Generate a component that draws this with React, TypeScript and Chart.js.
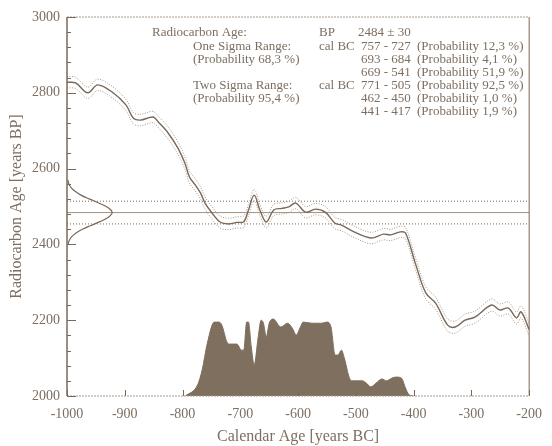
import React, { useEffect, useRef } from "react";
import { Chart, registerables } from "chart.js";
Chart.register(...registerables);

// Calibration curve (calendar year BC as negative, radiocarbon age BP)
const calYears = [-1000, -985, -964, -947, -922, -898, -885, -873, -851, -842, -825, -808, -796, -788, -778, -769, -761, -749, -735, -720, -706, -694, -686, -676, -666, -655, -642, -628, -616, -604, -587, -570, -553, -536, -525, -503, -474, -452, -440, -423, -414, -397, -379, -362, -341, -328, -311, -294, -265, -251, -236, -222, -214, -200];
const calAges = [2828, 2826, 2800, 2821, 2802, 2768, 2733, 2728, 2736, 2723, 2694, 2654, 2615, 2578, 2557, 2536, 2509, 2483, 2459, 2454, 2458, 2460, 2490, 2530, 2490, 2459, 2491, 2495, 2499, 2509, 2485, 2493, 2485, 2456, 2451, 2433, 2417, 2427, 2425, 2433, 2430, 2350, 2272, 2245, 2187, 2182, 2200, 2208, 2240, 2227, 2232, 2206, 2222, 2175];
const calSigma = [15, 15, 15, 15, 15, 15, 15, 15, 15, 15, 16, 16, 16, 16, 16, 16, 16, 16, 16, 15, 15, 15, 15, 15, 15, 15, 15, 15, 15, 15, 15, 15, 15, 15, 15, 15, 15, 15, 15, 15, 15, 16, 16, 16, 16, 16, 16, 16, 16, 16, 16, 16, 16, 16];

// Calibrated probability distribution (height above the 2000 BP baseline)
const probYears = [-795, -774, -766, -757, -745, -737, -732, -723, -718, -706, -698, -694, -689, -686, -681, -676, -669, -664, -660, -655, -650, -643, -630, -618, -610, -603, -596, -591, -576, -559, -550, -543, -536, -531, -525, -520, -511, -506, -489, -482, -474, -465, -455, -447, -438, -430, -421, -414, -409, -401];
const probHeight = [0, 29, 69, 140, 195, 195, 187, 142, 137, 137, 121, 121, 195, 195, 129, 82, 156, 200, 192, 156, 192, 203, 182, 192, 179, 161, 182, 195, 192, 192, 195, 182, 108, 108, 121, 100, 47, 40, 40, 34, 24, 34, 45, 40, 47, 50, 47, 21, 5, 0];

// Measured radiocarbon age distribution (2484 ± 30 BP)
const measuredAge = 2484;
const measuredSigma = 30;
const gaussAges = [2400, 2410, 2420, 2430, 2440, 2450, 2460, 2470, 2480, 2484, 2490, 2500, 2510, 2520, 2530, 2540, 2550, 2560, 2570];
const gaussDensity = [0.02, 0.05, 0.1, 0.2, 0.34, 0.53, 0.73, 0.9, 0.99, 1.0, 0.98, 0.87, 0.69, 0.49, 0.31, 0.18, 0.09, 0.04, 0.02];
const gaussPeakYears = 78;

const xTicks = [-1000, -900, -800, -700, -600, -500, -400, -300, -200];
const yTicks = [2000, 2200, 2400, 2600, 2800, 3000];

const infoRows: [string, string, string, string, string][] = [
  ["Radiocarbon Age:", "", "BP", "2484 ± 30", ""],
  ["", "One Sigma Range:", "cal BC", "757 - 727", "(Probability 12,3 %)"],
  ["", "(Probability 68,3 %)", "", "693 - 684", "(Probability 4,1 %)"],
  ["", "", "", "669 - 541", "(Probability 51,9 %)"],
  ["", "Two Sigma Range:", "cal BC", "771 - 505", "(Probability 92,5 %)"],
  ["", "(Probability 95,4 %)", "", "462 - 450", "(Probability 1,0 %)"],
  ["", "", "", "441 - 417", "(Probability 1,9 %)"],
];

const INK = "#7a6858";
const TEXT = "#7d6e60";
const LIGHT = "#a8998a";
const FILL = "#7f6f5e";
const SERIF = '"Liberation Serif", "Times New Roman", serif';

export default function App() {
  const ref = useRef<HTMLCanvasElement | null>(null);
  useEffect(() => {
    if (!ref.current) return;
    const pts = (xs: number[], ys: number[]) => xs.map((x, i) => ({ x, y: ys[i] }));
    const upper = calAges.map((a, i) => a + calSigma[i]);
    const lower = calAges.map((a, i) => a - calSigma[i]);
    const probY = probHeight.map((h) => 2000 + h);
    const gaussX = gaussDensity.map((d) => xTicks[0] + gaussPeakYears * d);
    const hl = (v: number) => [{ x: -1000, y: v }, { x: -200, y: v }];

    const decor = {
      id: "decor",
      afterDatasetsDraw(chart: any) {
        const { ctx, chartArea: a, scales } = chart;
        const xs = scales.x, ys = scales.y;
        ctx.save();
        const seg = (x1: number, y1: number, x2: number, y2: number) => {
          ctx.beginPath(); ctx.moveTo(x1, y1); ctx.lineTo(x2, y2); ctx.stroke();
        };
        // frame
        ctx.strokeStyle = INK;
        ctx.setLineDash([]);
        ctx.lineWidth = 1.5;
        seg(a.left, a.top, a.left, a.bottom);
        ctx.lineWidth = 1;
        seg(a.right, a.top, a.right, a.bottom);
        ctx.setLineDash([2, 1]);
        ctx.strokeStyle = LIGHT;
        seg(a.left, a.top, a.right, a.top);
        seg(a.left, a.bottom, a.right, a.bottom);
        ctx.setLineDash([]);
        ctx.strokeStyle = INK;
        ctx.lineWidth = 1;
        // y ticks (inward)
        for (let v = 2000; v <= 3000; v += 40) {
          const py = Math.round(ys.getPixelForValue(v)) + 0.5;
          const len = v % 200 === 0 ? 9 : 4;
          seg(a.left, py, a.left + len, py);
        }
        // x ticks (inward)
        for (const v of xTicks) {
          const px = Math.round(xs.getPixelForValue(v)) + 0.5;
          seg(px, a.bottom, px, a.bottom - 6);
        }
        // axis titles
        ctx.fillStyle = TEXT;
        ctx.font = `16px ${SERIF}`;
        ctx.textAlign = "center";
        ctx.textBaseline = "middle";
        ctx.fillText("Calendar Age [years BC]", (a.left + a.right) / 2, 437);
        ctx.save();
        ctx.translate(17, (a.top + a.bottom) / 2);
        ctx.rotate(-Math.PI / 2);
        ctx.fillText("Radiocarbon Age [years BP]", 0, 0);
        ctx.restore();
        // info text
        ctx.font = `13px ${SERIF}`;
        ctx.textAlign = "left";
        const cols = [152, 193, 319, 361, 417];
        infoRows.forEach((row, i) => {
          const py = 33 + i * 13.1;
          row.forEach((t, j) => {
            if (!t) return;
            let cx = cols[j];
            if (j === 3 && i === 0) cx = 358;
            ctx.fillText(t, cx, py);
          });
        });
        ctx.restore();
      },
    };

    const chart = new Chart(ref.current, {
      type: "line",
      data: {
        datasets: [
          { data: pts(calYears, calAges), borderColor: INK, borderWidth: 1.4, tension: 0.35, pointRadius: 0 },
          { data: pts(calYears, upper), borderColor: LIGHT, borderWidth: 1, borderDash: [1, 1.5], tension: 0.35, pointRadius: 0 },
          { data: pts(calYears, lower), borderColor: LIGHT, borderWidth: 1, borderDash: [1, 1.5], tension: 0.35, pointRadius: 0 },
          { data: pts(probYears, probY), borderColor: FILL, backgroundColor: FILL, borderWidth: 1, fill: "start", cubicInterpolationMode: "monotone", pointRadius: 0 },
          { data: pts(gaussX, gaussAges), borderColor: INK, borderWidth: 1.2, tension: 0.4, pointRadius: 0 },
          { data: hl(measuredAge), borderColor: "#a09080", borderWidth: 1, pointRadius: 0 },
          { data: hl(measuredAge + measuredSigma), borderColor: INK, borderWidth: 1, borderDash: [1, 2], pointRadius: 0 },
          { data: hl(measuredAge - measuredSigma), borderColor: INK, borderWidth: 1, borderDash: [1, 2], pointRadius: 0 },
        ],
      },
      options: {
        responsive: false,
        animation: false,
        layout: { padding: { top: 17, right: 14, left: 0, bottom: 0 } },
        plugins: { legend: { display: false }, tooltip: { enabled: false } },
        scales: {
          x: {
            type: "linear",
            min: -1000,
            max: -200,
            grid: { display: false, drawTicks: false },
            border: { display: false },
            afterFit: (s: any) => { s.height = 50; },
            afterBuildTicks: (s: any) => { s.ticks = xTicks.map((v) => ({ value: v })); },
            ticks: { color: TEXT, font: { family: SERIF, size: 14 }, padding: 10, maxRotation: 0, callback: (v: any) => String(v) },
          },
          y: {
            type: "linear",
            min: 2000,
            max: 3000,
            grid: { display: false, drawTicks: false },
            border: { display: false },
            afterFit: (s: any) => { s.width = 67; },
            afterBuildTicks: (s: any) => { s.ticks = yTicks.map((v) => ({ value: v })); },
            ticks: { color: TEXT, font: { family: SERIF, size: 14 }, padding: 7, callback: (v: any) => String(v) },
          },
        },
      },
      plugins: [decor],
    });
    return () => chart.destroy();
  }, []);
  return (
    <div style={{ position: "absolute", left: 0, top: 0, width: 552, height: 446, background: "#fff" }}>
      <canvas ref={ref} width={552} height={446} style={{ display: "block" }} />
    </div>
  );
}
